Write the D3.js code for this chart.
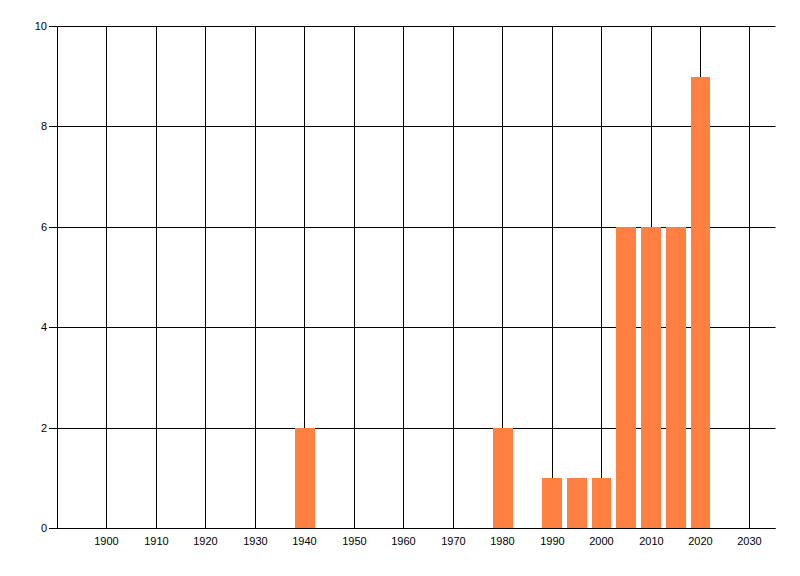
<!DOCTYPE html>
<html>
<head>
<meta charset="utf-8">
<script src="https://cdn.jsdelivr.net/npm/d3@7/dist/d3.min.js"></script>
<style>
html,body{margin:0;padding:0;background:#fff;}
svg{display:block;}
text{font-family:"Liberation Sans",Arial,sans-serif;font-size:11px;fill:#000;}
</style>
</head>
<body>
<svg id="chart" width="800" height="576"></svg>
<script>
const years = [1940, 1980, 1990, 1995, 2000, 2005, 2010, 2015, 2020];
const counts = [2, 2, 1, 1, 1, 6, 6, 6, 9];
const xTicks = [1900, 1910, 1920, 1930, 1940, 1950, 1960, 1970, 1980, 1990, 2000, 2010, 2020, 2030];
const yTicks = [0, 2, 4, 6, 8, 10];
const barColor = "#FF8040";

(function () {
const svg = d3.select("#chart");
const pLeft = 57.5, pRight = 57.5 + 14.5 * 49.46, pTop = 26.5, pBottom = 528.5;
const x = d3.scaleLinear().domain([1890, 2035]).range([pLeft, pRight]);
const y = d3.scaleLinear().domain([0, 10]).range([pBottom, pTop]);
const snap = v => Math.round(v - 0.5) + 0.5;

const grid = svg.append("g").attr("stroke", "#000").attr("stroke-width", 1);
grid.selectAll("line.v").data(xTicks).join("line").attr("class", "v")
  .attr("x1", d => snap(x(d))).attr("x2", d => snap(x(d)))
  .attr("y1", pTop).attr("y2", pBottom);
grid.selectAll("line.h").data(yTicks).join("line").attr("class", "h")
  .attr("x1", pLeft).attr("x2", 775.5)
  .attr("y1", d => snap(y(d))).attr("y2", d => snap(y(d)));

svg.append("g").selectAll("rect").data(years).join("rect")
  .attr("x", d => Math.round(x(d - 2)))
  .attr("width", d => Math.round(x(d + 2)) - Math.round(x(d - 2)))
  .attr("y", (d, i) => Math.round(y(counts[i])))
  .attr("height", (d, i) => Math.round(pBottom) - Math.round(y(counts[i])))
  .attr("fill", barColor);

svg.append("line").attr("x1", pLeft).attr("x2", pLeft).attr("y1", pTop).attr("y2", pBottom).attr("stroke", "#000");
svg.append("line").attr("x1", pLeft).attr("x2", 775.5).attr("y1", pBottom).attr("y2", pBottom).attr("stroke", "#000");

const yAxis = svg.append("g");
yAxis.selectAll("line").data(yTicks).join("line")
  .attr("x1", 49).attr("x2", pLeft).attr("y1", d => snap(y(d))).attr("y2", d => snap(y(d)))
  .attr("stroke", "#000");
yAxis.selectAll("text").data(yTicks).join("text")
  .attr("x", 47).attr("y", d => snap(y(d))).attr("dy", "0.35em")
  .attr("text-anchor", "end").text(d => d);

svg.append("g").selectAll("text").data(xTicks).join("text")
  .attr("x", d => snap(x(d))).attr("y", 541).attr("dy", "0.35em")
  .attr("text-anchor", "middle").text(d => d);
})();
</script>
</body>
</html>
